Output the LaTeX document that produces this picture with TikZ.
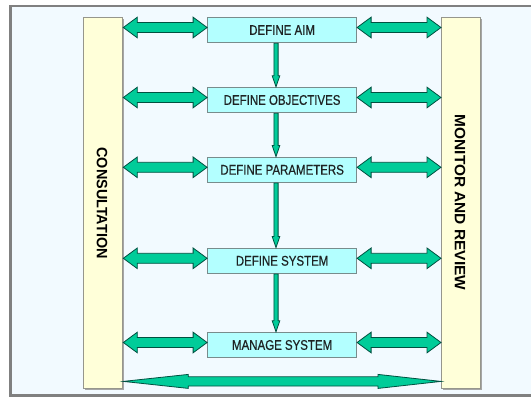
\documentclass[tikz,border=0pt]{standalone}
\usepackage{fontspec}
\usepackage{graphicx}
\setmainfont{Liberation Sans}
\newfontfamily\boxfont[FakeStretch=0.82,FakeBold=0.6]{Liberation Sans}
\usetikzlibrary{calc}

\definecolor{paper}{RGB}{242,250,255}
\definecolor{framegray}{RGB}{128,128,128}
\definecolor{barfill}{RGB}{255,255,217}
\definecolor{barline}{RGB}{150,150,140}
\definecolor{boxfill}{RGB}{179,255,255}
\definecolor{boxline}{RGB}{120,140,140}
\definecolor{arrowfill}{RGB}{0,204,153}
\definecolor{arrowline}{RGB}{0,80,64}
\definecolor{boxtext}{RGB}{30,35,35}

\tikzset{
  stepbox/.style={draw=boxline, line width=1pt, fill=boxfill,
    minimum width=149pt, minimum height=25.5pt, inner sep=0pt,
    font=\boxfont\fontsize{14}{16}\selectfont, text=boxtext},
  sidebar/.style={draw=barline, line width=1pt, fill=barfill,
    minimum width=39pt, minimum height=371pt, inner sep=0pt,
    preaction={fill=black!35, transform canvas={shift={(1.6pt,-1.6pt)}}}},
  bartext/.style={rotate=-90, inner sep=0pt,
    font=\bfseries\fontsize{15}{17}\selectfont, text=black},
  fat/.style={fill=arrowfill, draw=arrowline, line width=0.8pt, line join=miter},
}

% horizontal double arrow between two points on one level
\newcommand\fatarrow[2]{%
  \path[fat] let \p1=(#1), \p2=(#2) in
    (\x1,\y1+2.5) -- (\x1+14,\y1+12.8) -- (\x1+14,\y1+7.5)
    -- (\x2-14,\y1+7.5) -- (\x2-14,\y1+12.8) -- (\x2,\y1+2.5)
    -- (\x2-14,\y1-7.8) -- (\x2-14,\y1-2.5) -- (\x1+14,\y1-2.5)
    -- (\x1+14,\y1-7.8) -- cycle;}

% long slim double arrow along the bottom
\newcommand\slimarrow[2]{%
  \path[fat] let \p1=(#1), \p2=(#2) in
    (\x1,\y1) -- (\x1+65,\y1+7) -- (\x1+65,\y1+4.6)
    -- (\x2-63,\y1+4.6) -- (\x2-63,\y1+7) -- (\x2,\y1)
    -- (\x2-63,\y1-7) -- (\x2-63,\y1-4.6) -- (\x1+65,\y1-4.6)
    -- (\x1+65,\y1-7) -- cycle;}

% thin downward arrow
\newcommand\fatdown[2]{%
  \path[fat] let \p1=(#1), \p2=(#2) in
    (\x1-2.1,\y1) -- (\x1-2.1,\y2+11) -- (\x1-3.8,\y2+11) -- (\x1,\y2)
    -- (\x1+3.8,\y2+11) -- (\x1+2.1,\y2+11) -- (\x1+2.1,\y1) -- cycle;}

\begin{document}
\begin{tikzpicture}[x=1pt,y=-1pt]
\useasboundingbox (0,0) rectangle (531,397);
\fill[white] (0,0) rectangle (531,397);

% outer frame
\draw[framegray, line width=2.2pt, fill=paper] (10.5,6) rectangle (545,395.5);

% side bars
\node[sidebar] (consult) at (103.3,202.5) {};
\node[sidebar] (monitor) at (461,202.5) {};
\node[bartext] (consulttext) at (102,203) {\scalebox{0.96}[1]{CONSULTATION}};
\node[bartext] (monitortext) at (460,202.5) {\scalebox{1.03}[1]{MONITOR AND REVIEW}};

% process steps
\node[stepbox] (aim) at (282.1,30) {DEFINE AIM};
\node[stepbox] (obj) at (282.1,100) {DEFINE OBJECTIVES};
\node[stepbox] (par) at (282.1,169.8) {DEFINE PARAMETERS};
\node[stepbox] (sys) at (282.1,260.8) {DEFINE SYSTEM};
\node[stepbox] (man) at (282.1,345) {MANAGE SYSTEM};

% links to the side bars
\foreach \s in {aim,obj,par,sys,man}{
  \fatarrow{consult.east |- \s.west}{\s.west}
  \fatarrow{\s.east}{monitor.west |- \s.east}
}

% flow down the steps
\coordinate (spine) at (276,0);
\fatdown{spine |- aim.south}{spine |- obj.north}
\fatdown{spine |- obj.south}{spine |- par.north}
\fatdown{spine |- par.south}{spine |- sys.north}
\fatdown{spine |- sys.south}{spine |- man.north}

% link between the two bars
\coordinate (loop) at (0,381.4);
\slimarrow{consult.east |- loop}{monitor.west |- loop}
\end{tikzpicture}
\end{document}
